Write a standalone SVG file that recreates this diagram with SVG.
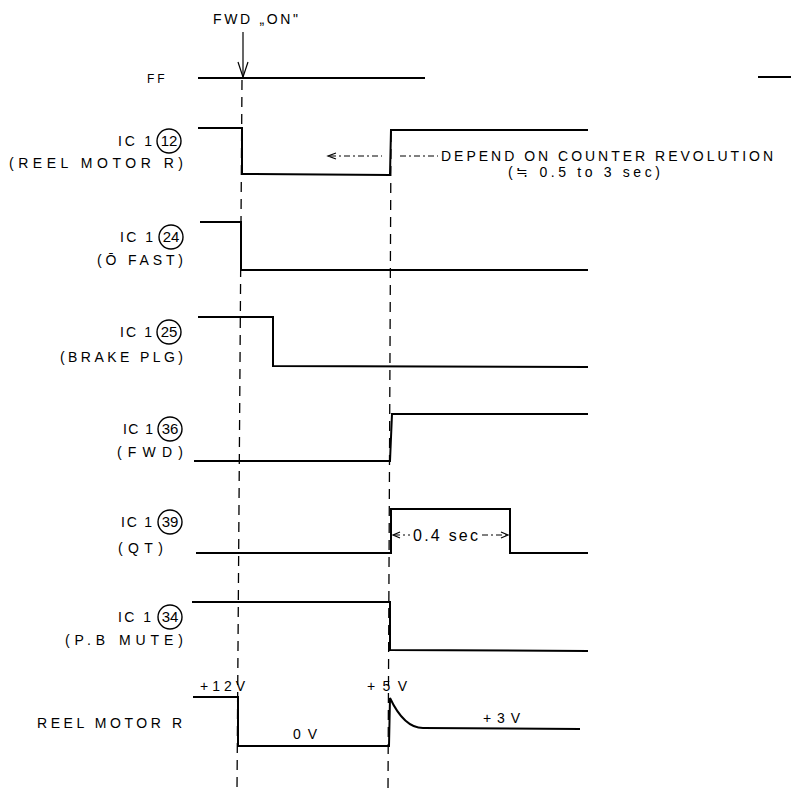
<svg xmlns="http://www.w3.org/2000/svg" width="791" height="790" viewBox="0 0 791 790">
<defs>
<style>
.w{fill:none;stroke:#000;stroke-width:2;stroke-linejoin:miter}
.d{fill:none;stroke:#000;stroke-width:1.3;stroke-dasharray:10,7}
.dd{fill:none;stroke:#000;stroke-width:1;stroke-dasharray:6,3,2,3}
.t{font-family:"Liberation Sans",Arial,sans-serif;font-size:14px;fill:#000}
.n{font-family:"Liberation Sans",Arial,sans-serif;font-size:15px;fill:#000;text-anchor:middle}
.c{fill:none;stroke:#000;stroke-width:1.4}
.a{fill:none;stroke:#000;stroke-width:1.2}
</style>
</defs>
<rect width="791" height="790" fill="#fff"/>
<g id="connectors">
<line class="d" x1="242" y1="80" x2="237" y2="790"/>
<line class="d" x1="391" y1="132" x2="388" y2="790"/>
<line class="a" x1="243" y1="32" x2="243" y2="77"/>
<polyline class="a" points="238,62 243,77 248,62"/>
</g>
<g id="fwd-on"><text class="t" x="213" y="24" textLength="85" lengthAdjust="spacing">FWD „ON"</text></g>
<g id="ff">
<text class="t" x="147" y="83" style="font-size:12px;letter-spacing:3px">FF</text>
<line class="w" x1="198" y1="78" x2="425" y2="78"/>
<line class="w" x1="758" y1="77" x2="791" y2="77"/>
</g>
<g id="ic1-12">
<text class="t" x="118" y="146" textLength="34" lengthAdjust="spacing">IC 1</text>
<circle class="c" cx="169" cy="141" r="12"/>
<text class="n" x="169" y="146">12</text>
<text class="t" x="9" y="168" textLength="174" lengthAdjust="spacing">(REEL MOTOR R)</text>
<polyline class="w" points="198,128 242,128 242,174 390,175 391,130 588,130"/>
</g>
<g id="depend">
<polyline class="dd" points="330,156 382,156"/>
<polyline class="a" points="336,153 328,156 336,159"/>
<line class="dd" x1="400" y1="156" x2="438" y2="156"/>
<text class="t" x="441" y="161" textLength="332" lengthAdjust="spacing">DEPEND ON COUNTER REVOLUTION</text>
<text class="t" x="508" y="177" textLength="152" lengthAdjust="spacing">(≒ 0.5 to 3 sec)</text>
</g>
<g id="ic1-24">
<text class="t" x="120" y="242" textLength="33" lengthAdjust="spacing">IC 1</text>
<circle class="c" cx="171" cy="237" r="12"/>
<text class="n" x="171" y="242">24</text>
<text class="t" x="97" y="265" textLength="86" lengthAdjust="spacing">(Ō FAST)</text>
<polyline class="w" points="200,222 241,222 241,270 588,270"/>
</g>
<g id="ic1-25">
<text class="t" x="120" y="337" textLength="32" lengthAdjust="spacing">IC 1</text>
<circle class="c" cx="169" cy="332" r="12"/>
<text class="n" x="169" y="337">25</text>
<text class="t" x="60" y="362" textLength="123" lengthAdjust="spacing">(BRAKE PLG)</text>
<polyline class="w" points="198,317 273,317 273,366 588,367"/>
</g>
<g id="ic1-36">
<text class="t" x="123" y="434" textLength="30" lengthAdjust="spacing">IC 1</text>
<circle class="c" cx="170" cy="429" r="12"/>
<text class="n" x="170" y="434">36</text>
<text class="t" x="117" y="457" textLength="66" lengthAdjust="spacing">(FWD)</text>
<polyline class="w" points="194,461 390,461 392,414 588,414"/>
</g>
<g id="ic1-39">
<text class="t" x="121" y="527" textLength="31" lengthAdjust="spacing">IC 1</text>
<circle class="c" cx="170" cy="522" r="12"/>
<text class="n" x="170" y="527">39</text>
<text class="t" x="118" y="553" textLength="45" lengthAdjust="spacing">(QT)</text>
<polyline class="w" points="196,553 391,553 391,509 510,509 510,553 588,553"/>
<line class="dd" x1="394" y1="535" x2="410" y2="535"/>
<polyline class="a" points="400,532 393,535 400,538"/>
<text class="t" x="413" y="541" textLength="65" lengthAdjust="spacing" style="font-size:16px">0.4 sec</text>
<line class="dd" x1="482" y1="535" x2="507" y2="535"/>
<polyline class="a" points="501,532 508,535 501,538"/>
</g>
<g id="ic1-34">
<text class="t" x="118" y="622" textLength="33" lengthAdjust="spacing">IC 1</text>
<circle class="c" cx="170" cy="617" r="12"/>
<text class="n" x="170" y="622">34</text>
<text class="t" x="65" y="645" textLength="118" lengthAdjust="spacing">(P.B MUTE)</text>
<polyline class="w" points="192,602 390,602 390,650 588,651"/>
</g>
<g id="reel-motor-r">
<text class="t" x="37" y="728" textLength="145" lengthAdjust="spacing">REEL MOTOR R</text>
<path class="w" d="M193,697 L238,697 L238,746 L389,746 L390,698 C398,715 408,728 423,728 L580,729"/>
<text class="t" x="200" y="691" textLength="45" lengthAdjust="spacing">+12V</text>
<text class="t" x="367" y="691" textLength="40" lengthAdjust="spacing">+5V</text>
<text class="t" x="293" y="739" textLength="24" lengthAdjust="spacing">0V</text>
<text class="t" x="483" y="723" textLength="37" lengthAdjust="spacing">+3V</text>
</g>
</svg>
